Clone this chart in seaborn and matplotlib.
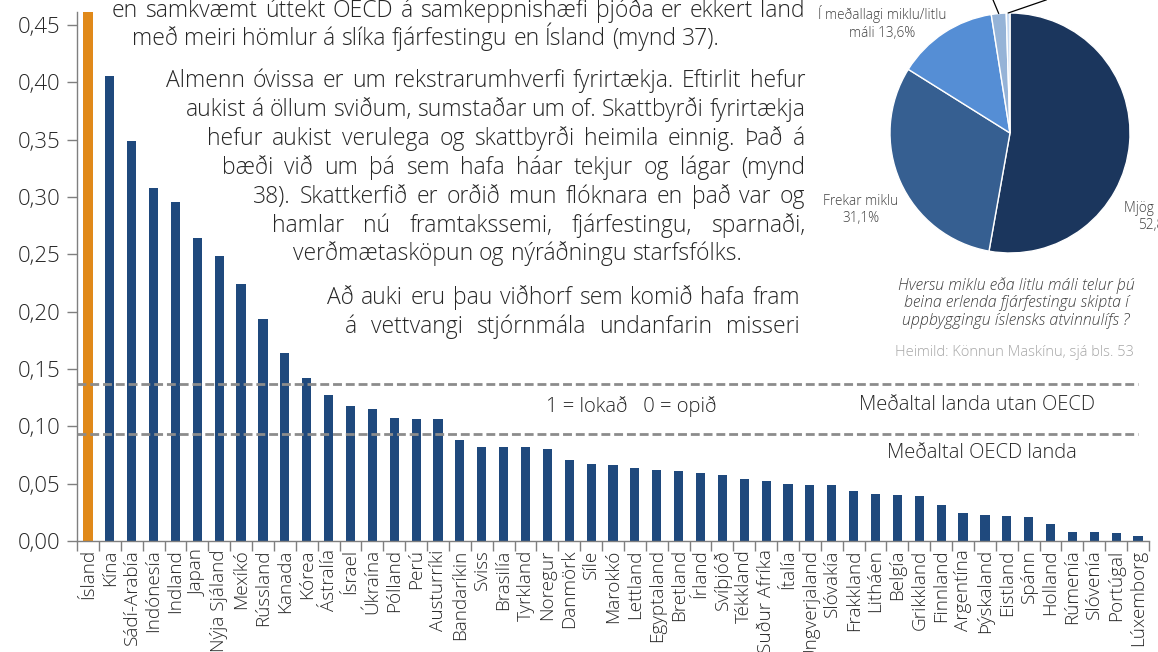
import numpy as np
import pandas as pd
import matplotlib
matplotlib.use("Agg")
import matplotlib.pyplot as plt
import seaborn as sns
from matplotlib.ticker import FuncFormatter, FixedLocator

# --- Gögn: vísitala OECD um hömlur á beina erlenda fjárfestingu (1 = lokað, 0 = opið)
lond = [
    "Ísland", "Kína", "Sádí-Arabía", "Indónesía", "Indland", "Japan", "Nýja Sjáland",
    "Mexíkó", "Rússland", "Kanada", "Kórea", "Ástralía", "Ísrael", "Úkraína", "Pólland",
    "Perú", "Austurríki", "Bandaríkin", "Sviss", "Brasilía", "Tyrkland", "Noregur",
    "Danmörk", "Síle", "Marokkó", "Lettland", "Egyptaland", "Bretland", "Írland",
    "Svíþjóð", "Tékkland", "Suður Afríka", "Ítalía", "Ungverjaland", "Slóvakía",
    "Frakkland", "Litháen", "Belgía", "Grikkland", "Finnland", "Argentína", "Þýskaland",
    "Eistland", "Spánn", "Holland", "Rúmenía", "Slóvenía", "Portúgal", "Lúxemborg",
]
gildi = [
    0.462, 0.406, 0.349, 0.308, 0.296, 0.264, 0.249, 0.224, 0.194, 0.164, 0.142,
    0.127, 0.118, 0.115, 0.107, 0.106, 0.106, 0.088, 0.082, 0.082, 0.082, 0.080,
    0.071, 0.067, 0.066, 0.064, 0.062, 0.061, 0.059, 0.058, 0.054, 0.052, 0.050,
    0.049, 0.049, 0.044, 0.041, 0.040, 0.039, 0.031, 0.024, 0.023, 0.022, 0.021,
    0.015, 0.008, 0.008, 0.007, 0.004,
]
medaltal_utan_oecd = 0.137
medaltal_oecd = 0.093
y_merki = [0.00, 0.05, 0.10, 0.15, 0.20, 0.25, 0.30, 0.35, 0.40, 0.45]

# --- Könnun Maskínu: mikilvægi beinnar erlendrar fjárfestingar
kaka_flokkar = ["Mjög miklu", "Frekar miklu", "Í meðallagi miklu/litlu máli",
                "Frekar litlu", "Mjög litlu"]
kaka_hlutfall = [52.8, 31.1, 13.6, 2.0, 0.5]

# --- Útlit
W, H = 1158, 652
DOKK = "#262626"
GRAR = "#7f7f7f"
BLAR = "#1F497D"
APPELSINA = "#E0891A"
KOKU_LITIR = ["#1B365D", "#365F91", "#558ED5", "#95B3D7", "#C6D9F1"]

sns.set_theme(style="ticks")
plt.rcParams["font.family"] = ["Open Sans", "DejaVu Sans"]
plt.rcParams["font.weight"] = "light"

fig = plt.figure(figsize=(W / 100, H / 100), dpi=100)
fig.patch.set_facecolor("white")


def pix(x, y):
    """Pixlahnit (frá efra vinstra horni) yfir í hlutfall af mynd."""
    return x / W, 1 - y / H


ax = fig.add_axes([77 / W, 1 - 541 / H, (1149 - 77) / W, (541 - 12) / H])

df = pd.DataFrame({
    "land": lond,
    "gildi": gildi,
    "hopur": ["Ísland"] + ["Önnur"] * (len(lond) - 1),
})
sns.barplot(data=df, x="land", y="gildi", hue="hopur", order=lond,
            palette={"Ísland": APPELSINA, "Önnur": BLAR}, dodge=False,
            width=0.42, saturation=1, linewidth=0, legend=False, ax=ax)

ax.set_xlim(-0.5, len(lond) - 0.5)
ax.set_ylim(0, 0.4615)
ax.set_xlabel("")
ax.set_ylabel("")

for v in (medaltal_utan_oecd, medaltal_oecd):
    ax.axhline(v, xmin=0, xmax=0.99, color="#8c8c8c", lw=2.0,
               linestyle=(0, (3.2, 1.4)), zorder=5)

ax.yaxis.set_major_locator(FixedLocator(y_merki))
ax.yaxis.set_major_formatter(FuncFormatter(lambda v, p: f"{v:.2f}".replace(".", ",")))
ax.tick_params(axis="y", direction="out", length=7, width=1, color=GRAR,
               labelsize=16, labelcolor=DOKK, pad=5)

ax.set_xticks(range(len(lond)))
ax.set_xticklabels(lond, rotation=90, fontsize=13.6, color=DOKK)
ax.tick_params(axis="x", which="major", length=0, pad=6)
ax.set_xticks(np.arange(-0.5, len(lond), 1.0), minor=True)
ax.tick_params(axis="x", which="minor", direction="out", length=7, width=1, color=GRAR)

for s in ("top", "right"):
    ax.spines[s].set_visible(False)
for s in ("left", "bottom"):
    ax.spines[s].set_color(GRAR)
    ax.spines[s].set_linewidth(1)

# Skýringartextar á grafinu
fig.text(*pix(631, 407), "1 = lokað   0 = opið", ha="center", va="center",
         fontsize=14.5, color=DOKK)
fig.text(*pix(977, 405), "Meðaltal landa utan OECD", ha="center", va="center",
         fontsize=14.5, color=DOKK)
fig.text(*pix(982, 453), "Meðaltal OECD landa", ha="center", va="center",
         fontsize=14.5, color=DOKK)

# --- Kökurit
ax2 = fig.add_axes([890 / W, 1 - 253 / H, 240 / W, 240 / H])
ax2.pie(kaka_hlutfall, colors=KOKU_LITIR, startangle=90, counterclock=False,
        radius=1, wedgeprops=dict(edgecolor="white", linewidth=1.0))
ax2.set_xlim(-1, 1)
ax2.set_ylim(-1, 1)
ax2.set_aspect("equal")
ax2.axis("off")

# Vísilínur að smæstu sneiðunum
uppsafnad = np.cumsum(kaka_hlutfall)
for i, (dx, dy) in zip((3, 4), ((-0.05, 0.12), (0.32, 0.11))):
    midja = (uppsafnad[i] - kaka_hlutfall[i] / 2) / 100
    horn = np.pi / 2 - 2 * np.pi * midja
    x0, y0 = np.cos(horn), np.sin(horn)
    ax2.plot([x0, x0 + dx], [y0, y0 + dy], color="black", lw=0.9, clip_on=False)

koku_letur = dict(ha="center", va="center", fontsize=9.8, color="#404040",
                  linespacing=1.2)
fig.text(*pix(882, 23), "Í meðallagi miklu/litlu\nmáli 13,6%", **koku_letur)
fig.text(*pix(861, 210), "Frekar miklu\n31,1%", **koku_letur)
fig.text(*pix(1157, 217), "Mjög miklu\n52,8%", **koku_letur)

fig.text(*pix(1016, 303),
         "Hversu miklu eða litlu máli telur þú\nbeina erlenda fjárfestingu skipta í\n"
         "uppbyggingu íslensks atvinnulífs ?",
         ha="center", va="center", fontsize=11.5, style="italic", color="#404040",
         linespacing=1.15)
fig.text(*pix(1014, 353), "Heimild: Könnun Maskínu, sjá bls. 53", ha="center",
         va="center", fontsize=10.5, color="#a6a6a6")

# --- Meginmál sem flæðir umhverfis súlurnar (jafnað að báðum jöðrum)
malsgreinar = [
    ("en samkvæmt úttekt OECD á samkeppnishæfi þjóða er ekkert land", 112, 805, 17, True),
    ("með meiri hömlur á slíka fjárfestingu en Ísland (mynd 37).", 132, 805, 45, False),
    ("Almenn óvissa er um rekstrarumhverfi fyrirtækja. Eftirlit hefur", 166, 805, 87, True),
    ("aukist á öllum sviðum, sumstaðar um of. Skattbyrði fyrirtækja", 186, 805, 116, True),
    ("hefur aukist verulega og skattbyrði heimila einnig. Það á", 207, 805, 145, True),
    ("bæði við um þá sem hafa háar tekjur og lágar (mynd", 222, 805, 174, True),
    ("38). Skattkerfið er orðið mun flóknara en það var og", 253, 805, 203, True),
    ("hamlar nú framtakssemi, fjárfestingu, sparnaði,", 272, 805, 232, True),
    ("verðmætasköpun og nýráðningu starfsfólks.", 293, 805, 260, False),
    ("Að auki eru þau viðhorf sem komið hafa fram", 327, 800, 304, True),
    ("á vettvangi stjórnmála undanfarin misseri", 345, 800, 333, True),
]

renderer = fig.canvas.get_renderer()
meginletur = dict(fontsize=16.5, color=DOKK, ha="left", va="baseline")


def breidd(texti):
    t = fig.text(0, 0, texti, **meginletur)
    b = t.get_window_extent(renderer).width
    t.remove()
    return b


bil_nat = breidd("a a") - breidd("aa")

for texti, vinstri, haegri, grunnlina, jafna in malsgreinar:
    ord_ = texti.split(" ")
    breiddir = [breidd(o) for o in ord_]
    if jafna and len(ord_) > 1:
        bil = (haegri - vinstri - sum(breiddir)) / (len(ord_) - 1)
    else:
        bil = bil_nat
    x = vinstri
    for o, b in zip(ord_, breiddir):
        fig.text(*pix(x, grunnlina), o, **meginletur)
        x += b + bil

fig.savefig("out.png", dpi=100, facecolor="white")
